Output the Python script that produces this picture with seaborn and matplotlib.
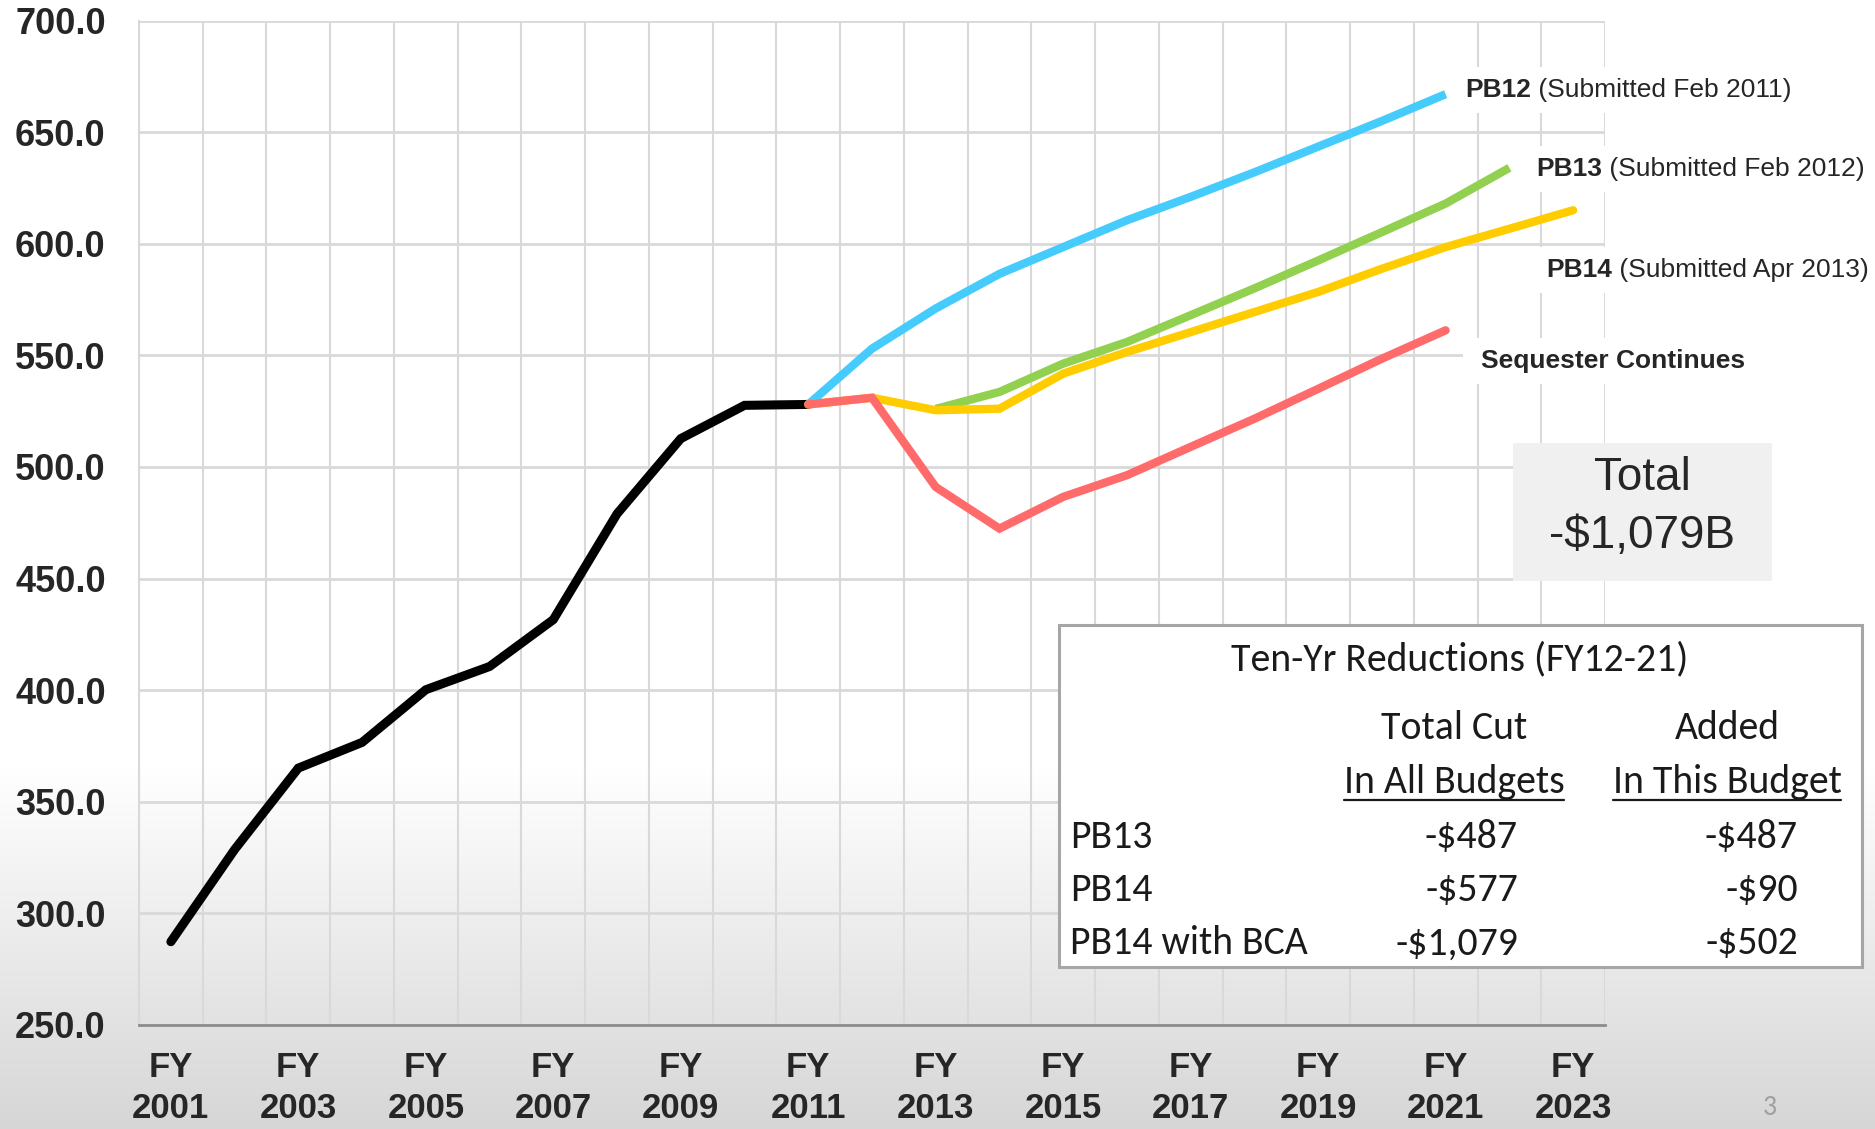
import numpy as np
import pandas as pd
import matplotlib
matplotlib.use("Agg")
import matplotlib.pyplot as plt
import seaborn as sns
from matplotlib import font_manager as fm
from matplotlib.patches import Rectangle
from matplotlib.lines import Line2D

# ---------------- data ----------------
hist_years = list(range(2001, 2012))
hist_values = [287.3, 328.6, 365.1, 376.6, 400.2, 410.6, 431.6, 479.0, 512.7, 527.6, 528.0]

pb12_years = list(range(2011, 2022))
pb12_values = [528.0, 553.0, 571.0, 586.5, 598.5, 610.5, 621.0, 632.0, 643.5, 655.0, 667.0]

pb13_years = list(range(2013, 2023))
pb13_values = [526.0, 533.6, 546.3, 556.0, 568.0, 580.0, 592.5, 605.2, 618.0, 634.0]

pb14_years = list(range(2011, 2024))
pb14_values = [528.0, 531.0, 525.4, 526.1, 541.8, 551.5, 560.4, 569.4, 578.4, 588.8, 598.5, 606.7, 615.0]

seq_years = list(range(2011, 2022))
seq_values = [528.0, 531.0, 491.0, 472.4, 486.6, 496.3, 509.0, 521.6, 535.0, 548.5, 561.2]

series_names = ["Actual", "PB12", "PB13", "PB14", "Sequester Continues"]
series_colors = ["#000000", "#45CBFC", "#92D050", "#FFCC00", "#FF6B6B"]

x_tick_years = list(range(2001, 2024, 2))
x_tick_labels = [f"FY\n{y}" for y in x_tick_years]
y_ticks = list(range(250, 701, 50))

table_title = "Ten-Yr Reductions (FY12-21)"
table_head1 = ["Total Cut", "Added"]
table_head2 = ["In All Budgets", "In This Budget"]
table_rows = ["PB13", "PB14", "PB14 with BCA"]
table_col1 = ["-$487", "-$577", "-$1,079"]
table_col2 = ["-$487", "-$90", "-$502"]

line_labels = [
    ("PB12", " (Submitted Feb 2011)", 2021.31, 668.9),
    ("PB13", " (Submitted Feb 2012)", 2022.42, 633.5),
    ("PB14", " (Submitted Apr 2013)", 2022.58, 588.2),
    ("Sequester Continues", "", 2021.56, 547.5),
]

# ---------------- long-form frame ----------------
frames = []
for name, yrs, vals in zip(series_names,
                           [hist_years, pb12_years, pb13_years, pb14_years, seq_years],
                           [hist_values, pb12_values, pb13_values, pb14_values, seq_values]):
    frames.append(pd.DataFrame({"year": yrs, "value": vals, "series": name}))
df = pd.concat(frames, ignore_index=True)

# ---------------- style / fonts ----------------
sns.set_style("white")
names = {f.name for f in fm.fontManager.ttflist}
SANS = "Liberation Sans" if "Liberation Sans" in names else "DejaVu Sans"
CAL = "Carlito" if "Carlito" in names else ("Lato" if "Lato" in names else SANS)
plt.rcParams["font.family"] = [SANS, "DejaVu Sans"]

W, H = 1875, 1129
fig = plt.figure(figsize=(W / 100, H / 100), dpi=100)

def P(x, y):
    return (x / W, 1 - y / H)

# background gradient
bg = fig.add_axes([0, 0, 1, 1], zorder=-10)
t = np.linspace(0, 1, 600)
v = np.where(t < 0.68, 1.0, 1.0 - (t - 0.68) / 0.32 * (1 - 0.84))
grad = np.repeat(v[:, None, None], 3, axis=2)
bg.imshow(grad, extent=[0, 1, 0, 1], aspect="auto", origin="upper")
bg.set_axis_off()

ax = fig.add_axes([139 / W, 1 - 1025 / H, (1605 - 139) / W, (1025 - 20.5) / H])
ax.patch.set_alpha(0)

sns.lineplot(data=df, x="year", y="value", hue="series", hue_order=series_names,
             palette=series_colors, estimator=None, sort=False, legend=False, ax=ax)

widths = [6.5, 6.0, 6.0, 6.0, 6.0]
caps = ["round", "butt", "butt", "round", "round"]
for ln, lw, cs, z in zip(ax.lines, widths, caps, range(len(ax.lines))):
    ln.set_linewidth(lw)
    ln.set_solid_capstyle(cs)
    ln.set_solid_joinstyle("miter")
    ln.set_zorder(3 + z * 0.1)

ax.set_xlim(2000.5, 2023.5)
ax.set_ylim(250, 700)
ax.set_xticks(x_tick_years)
ax.set_xticklabels(x_tick_labels, fontsize=25, fontweight="bold", linespacing=1.3)
ax.set_xticks(np.arange(2000.5, 2024.0, 1.0), minor=True)
ax.set_yticks(y_ticks)
ax.set_yticklabels([f"{y:.1f}" for y in y_ticks], fontsize=26, fontweight="bold")
ax.set_xlabel("")
ax.set_ylabel("")

ax.tick_params(axis="x", which="major", length=0, pad=19)
ax.tick_params(axis="x", which="minor", length=8, width=1.5, color="#8c8c8c")
ax.tick_params(axis="y", which="major", length=8, width=1.5, color="#e3e3e3", pad=16)

ax.grid(False)
ax.grid(which="minor", axis="x", color="#d9d9d9", linewidth=1.5)
ax.grid(which="major", axis="y", color="#d9d9d9", linewidth=2)
ax.set_axisbelow(True)

for s in ["top", "right"]:
    ax.spines[s].set_visible(False)
ax.spines["left"].set_color("#d9d9d9")
ax.spines["left"].set_linewidth(1.5)
ax.spines["bottom"].set_color("#8c8c8c")
ax.spines["bottom"].set_linewidth(2)

renderer = fig.canvas.get_renderer()

# series labels on white boxes
for bold, rest, xl, yl in line_labels:
    t1 = ax.text(xl, yl, bold, fontsize=19, fontweight="bold", ha="left", va="center",
                 clip_on=False, zorder=7)
    texts = [t1]
    if rest:
        t2 = ax.annotate(rest, xy=(1, 0.5), xycoords=t1, fontsize=19, ha="left",
                         va="center", zorder=7, annotation_clip=False)
        texts.append(t2)
    bbs = [tx.get_window_extent(renderer) for tx in texts]
    x0 = min(b.x0 for b in bbs) - 18
    x1 = max(b.x1 for b in bbs) + 14
    y0 = min(b.y0 for b in bbs) - 11
    y1 = max(b.y1 for b in bbs) + 11
    ax.add_patch(Rectangle((x0 / W, y0 / H), (x1 - x0) / W, (y1 - y0) / H,
                           transform=fig.transFigure, facecolor="white",
                           edgecolor="none", zorder=6, clip_on=False))

# Total box
fig.add_artist(Rectangle(P(1513, 581), 259 / W, 138 / H, transform=fig.transFigure,
                         facecolor="#f0f0f0", edgecolor="none", zorder=5))
fig.text(*P(1642, 490), "Total", fontsize=33, ha="center", va="baseline", zorder=6)
fig.text(*P(1642, 547.5), "-$1,079B", fontsize=33, ha="center", va="baseline", zorder=6)

# Table box
fig.add_artist(Rectangle(P(1058.5, 967), (1861.5 - 1058.5) / W, (967 - 625) / H,
                         transform=fig.transFigure, facecolor="white",
                         edgecolor="#a6a6a6", linewidth=2.2, zorder=5))

# fit table font size to title width
probe = fig.text(0, 0, table_title, fontsize=28, family=[CAL, "DejaVu Sans"])
wpx = probe.get_window_extent(renderer).width
probe.remove()
tfs = 28 * 457 / wpx

tk = dict(fontsize=tfs, family=[CAL, "DejaVu Sans"], color="#1a1a1a", zorder=6, va="baseline")
fig.text(*P(1460, 670), table_title, ha="center", **tk)
for cx, h1, h2 in zip([1454, 1727], table_head1, table_head2):
    fig.text(*P(cx, 739), h1, ha="center", **tk)
    th = fig.text(*P(cx, 793), h2, ha="center", **tk)
    bb = th.get_window_extent(renderer)
    fig.add_artist(Line2D([bb.x0 / W, bb.x1 / W], [1 - 800 / H, 1 - 800 / H],
                          transform=fig.transFigure, color="#1a1a1a", linewidth=1.6, zorder=6))
for yb, lab, c1, c2 in zip([847.5, 901, 954.5], table_rows, table_col1, table_col2):
    fig.text(*P(1070, yb), lab, ha="left", **tk)
    fig.text(*P(1518, yb), c1, ha="right", **tk)
    fig.text(*P(1798, yb), c2, ha="right", **tk)

# page number
fig.text(*P(1770, 1115), "3", fontsize=20, family=[CAL, "DejaVu Sans"], color="#a0a0a0",
         ha="center", va="baseline")

fig.savefig("out.png", dpi=100)
